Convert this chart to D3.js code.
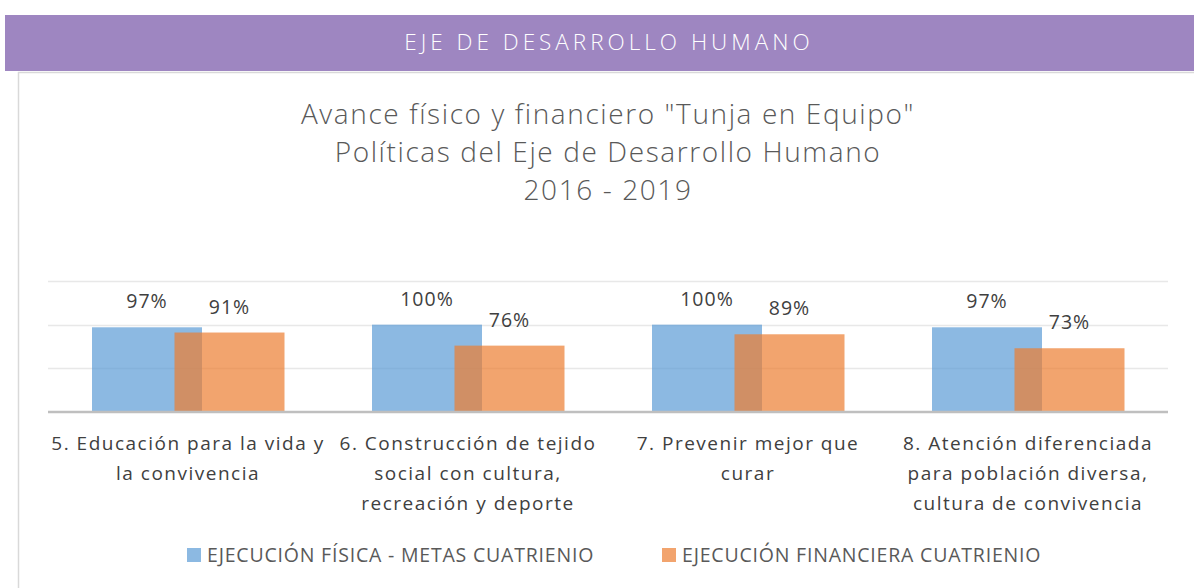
<!DOCTYPE html>
<html>
<head>
<meta charset="utf-8">
<script src="https://cdn.jsdelivr.net/npm/d3@7"></script>
<style>
  body { margin: 0; background: #fff; }
  svg { display: block; }
</style>
</head>
<body>
<div id="chart"></div>
<script>
const categories = ["5", "6", "7", "8"]
const categoryLines = [
  ["5. Educación para la vida y", "la convivencia"],
  ["6. Construcción de tejido", "social con cultura,", "recreación y deporte"],
  ["7. Prevenir mejor que", "curar"],
  ["8. Atención diferenciada", "para población diversa,", "cultura de convivencia"]
]
const series = ["EJECUCIÓN FÍSICA - METAS CUATRIENIO", "EJECUCIÓN FINANCIERA CUATRIENIO"]
const fisica = [0.97, 1.00, 1.00, 0.97]
const financiera = [0.91, 0.76, 0.89, 0.73]
const titleLines = ['Avance físico y financiero "Tunja en Equipo"', "Políticas del Eje de Desarrollo Humano", "2016 - 2019"]
const yTicks = [0, 0.5, 1, 1.5]

const width = 1194, height = 588
const colors = ["#5B9BD5", "#ED7D31"]
const font = "'Open Sans', sans-serif"

const svg = d3.select("#chart").append("svg")
  .attr("width", width)
  .attr("height", height)

// banner
svg.append("rect")
  .attr("x", 5).attr("y", 15)
  .attr("width", width - 5).attr("height", 56)
  .attr("fill", "#9E86C1")
svg.append("text")
  .attr("x", 609).attr("y", 42)
  .attr("dy", "0.35em")
  .attr("text-anchor", "middle")
  .attr("font-family", font)
  .attr("font-weight", 300)
  .attr("font-size", 22.5)
  .attr("letter-spacing", 4)
  .attr("fill", "#fff")
  .text("EJE DE DESARROLLO HUMANO")

// frame lines
svg.append("line")
  .attr("x1", 18).attr("x2", width).attr("y1", 72.5).attr("y2", 72.5)
  .attr("stroke", "#d9d9d9").attr("stroke-width", 1.5)
svg.append("line")
  .attr("x1", 18.5).attr("x2", 18.5).attr("y1", 72).attr("y2", height)
  .attr("stroke", "#d9d9d9").attr("stroke-width", 1.5)

// title
svg.append("g")
  .attr("font-family", font)
  .attr("font-weight", 300)
  .attr("font-size", 28)
  .attr("letter-spacing", 1.6)
  .attr("fill", "#595959")
  .attr("text-anchor", "middle")
  .selectAll("text")
  .data(titleLines)
  .join("text")
    .attr("x", 608)
    .attr("y", (d, i) => 114 + i * 38)
    .attr("dy", "0.35em")
    .text(d => d)

const x = d3.scaleBand(categories, [48, 1168]).paddingInner(0)
const xSub = d3.scalePoint([0, 1], [99, 181.5])
const barW = 110
const y = d3.scaleLinear([0, 1.5], [412, 281])

// gridlines
svg.append("g")
  .selectAll("line")
  .data(yTicks.slice(1))
  .join("line")
    .attr("x1", 48).attr("x2", 1168)
    .attr("y1", d => Math.round(y(d)) + 0.5)
    .attr("y2", d => Math.round(y(d)) + 0.5)
    .attr("stroke", "#e8e8e8")
    .attr("stroke-width", 1.5)

const rows = categories.map((c, i) => ({cat: c, values: [fisica[i], financiera[i]]}))

const bars = svg.append("g")
rows.forEach(row => {
  row.values.forEach((v, s) => {
    bars.append("rect")
      .attr("x", x(row.cat) + xSub(s) - barW / 2)
      .attr("y", y(v))
      .attr("width", barW)
      .attr("height", y(0) - y(v))
      .attr("fill", colors[s])
      .attr("fill-opacity", 0.7)
  })
})

// baseline
svg.append("line")
  .attr("x1", 48).attr("x2", 1168)
  .attr("y1", y(0)).attr("y2", y(0))
  .attr("stroke", "#bfbfbf")
  .attr("stroke-width", 2.5)

// value labels
const labels = svg.append("g")
  .attr("font-family", font)
  .attr("font-size", 19.5)
  .attr("letter-spacing", 1)
  .attr("fill", "#404040")
  .attr("text-anchor", "middle")
rows.forEach(row => {
  row.values.forEach((v, s) => {
    labels.append("text")
      .attr("x", x(row.cat) + xSub(s))
      .attr("y", y(v) - 19)
      .text(d3.format(".0%")(v))
  })
})

// category labels
svg.append("g")
  .attr("font-family", font)
  .attr("font-size", 19)
  .attr("letter-spacing", 1.5)
  .attr("fill", "#404040")
  .attr("text-anchor", "middle")
  .selectAll("text")
  .data(categories)
  .join("text")
    .attr("x", d => x(d) + x.bandwidth() / 2)
    .attr("y", 443)
    .selectAll("tspan")
    .data((d, i) => categoryLines[i])
    .join("tspan")
      .attr("x", function() { return this.parentNode.getAttribute("x") })
      .attr("dy", (d, i) => i === 0 ? "0.35em" : 30)
      .text(d => d)

// legend
const legendX = [187, 662]
const legend = svg.append("g")
  .attr("font-family", font)
  .attr("font-size", 19.5)
  .attr("letter-spacing", 0.8)
  .attr("fill", "#595959")
series.forEach((name, i) => {
  legend.append("rect")
    .attr("x", legendX[i]).attr("y", 548)
    .attr("width", 14).attr("height", 14)
    .attr("fill", colors[i])
    .attr("fill-opacity", 0.7)
  legend.append("text")
    .attr("x", legendX[i] + 20).attr("y", 555)
    .attr("dy", "0.35em")
    .text(name)
})
</script>
</body>
</html>
